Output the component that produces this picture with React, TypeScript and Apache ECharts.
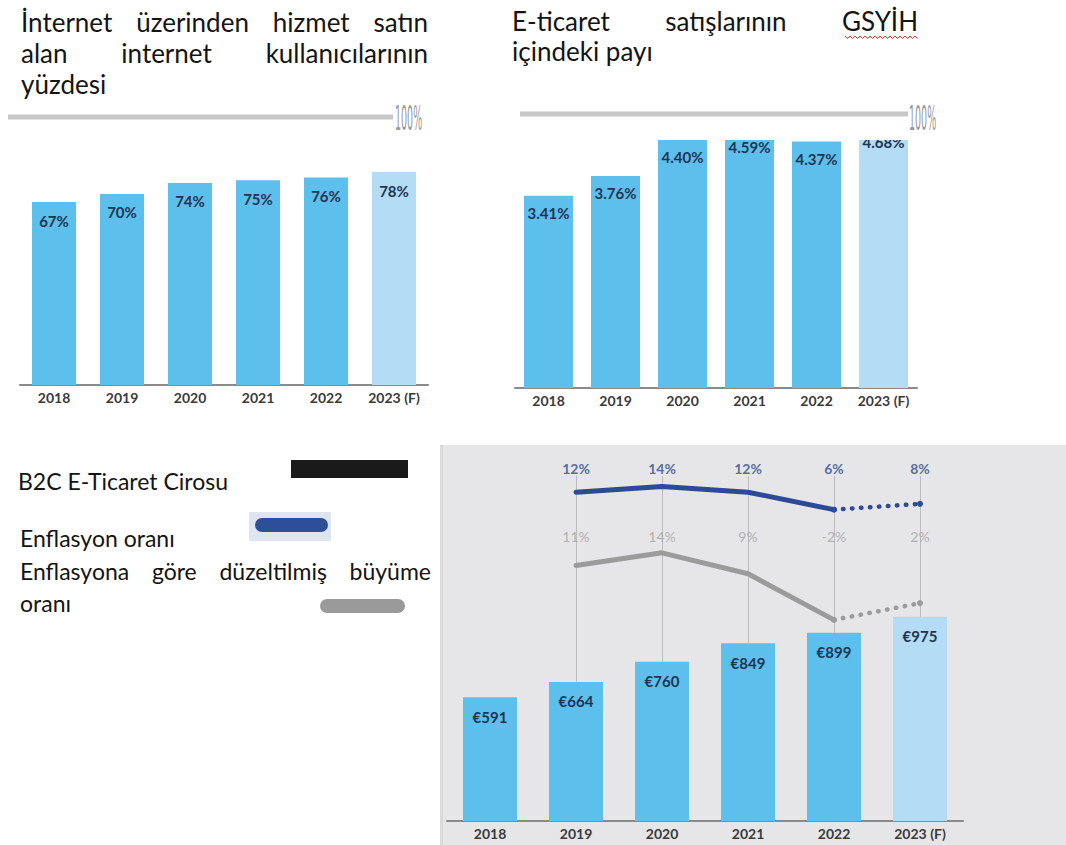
import React, { useEffect, useRef } from "react";
import * as echarts from "echarts";

// ---------- data ----------
const years = ["2018", "2019", "2020", "2021", "2022", "2023 (F)"];
const buyersPct = [67, 70, 74, 75, 76, 78];
const gdpShare = [3.41, 3.76, 4.4, 4.59, 4.37, 4.68];
const turnover = [591, 664, 760, 849, 899, 975];
const inflation: (number | null)[] = [null, 12, 14, 12, 6, 8];
const adjGrowth: (number | null)[] = [null, 11, 14, 9, -2, 2];
const forecastIndex = 5;

const titleLeft = [["İnternet", "üzerinden", "hizmet", "satın"], ["alan", "internet", "kullanıcılarının"], ["yüzdesi"]];
const titleRight = [["E-ticaret", "satışlarının", "GSYİH"], ["içindeki payı"]];
const legendLabels = ["B2C E-Ticaret Cirosu", "Enflasyon oranı", ["Enflasyona", "göre", "düzeltilmiş", "büyüme"], "oranı"];

// ---------- styles ----------
const BAR = "#5cbfec";
const BAR_F = "#b4dcf4";
const LABEL_DARK = "#1e3552";
const BLUE = "#2c4a97";
const GREY = "#9b9b9b";
const FONT = "Lato";

const solidPart = (arr: (number | null)[]) => arr.map((v, i) => (i < forecastIndex ? v : null));
const dottedPart = (arr: (number | null)[]) => arr.map((v, i) => (i >= forecastIndex - 1 ? v : null));

let measureCtx: CanvasRenderingContext2D | null = null;
const measure = (text: string, fontSize: number) => {
  if (!measureCtx) measureCtx = document.createElement("canvas").getContext("2d");
  if (!measureCtx) return text.length * fontSize * 0.5;
  measureCtx.font = `${fontSize}px ${FONT}`;
  return measureCtx.measureText(text).width;
};

export default function App() {
  const ref = useRef<HTMLDivElement>(null);
  useEffect(() => {
    if (!ref.current) return;
    const chart = echarts.init(ref.current, undefined, { renderer: "svg" });

    const barData = (vals: number[]) =>
      vals.map((v, i) => ({ value: v, itemStyle: { color: i === forecastIndex ? BAR_F : BAR } }));

    const xAxisBase = (gridIndex: number, fontSize: number, margin: number) => ({
      type: "category",
      gridIndex,
      data: years,
      boundaryGap: true,
      axisLine: { show: true, lineStyle: { color: "#8a8a8a", width: 2 } },
      axisTick: { show: false },
      axisLabel: { color: "#3a3a3a", fontWeight: "bold", fontSize, fontFamily: FONT, margin },
      splitLine: { show: false },
    });

    const T = (text: string, x: number, y: number, o: any = {}) => ({
      type: "text",
      x,
      y,
      z: 100,
      style: {
        text,
        fill: "#141414",
        fontFamily: FONT,
        fontSize: 26,
        verticalAlign: "middle",
        align: "left",
        ...o,
      },
    });

    const graphics: any[] = [];
    const justify = (words: string[], x0: number, x1: number, y: number, fontSize: number) => {
      const widths = words.map((w) => measure(w, fontSize));
      const total = widths.reduce((a, b) => a + b, 0);
      const gap = words.length > 1 ? (x1 - x0 - total) / (words.length - 1) : 0;
      let x = x0;
      words.forEach((w, i) => {
        graphics.push(T(w, x, y, { fontSize }));
        x += widths[i] + gap;
      });
    };

    // bottom-right panel
    graphics.push({ type: "rect", z: -10, shape: { x: 440, y: 445, width: 626, height: 400 }, style: { fill: "#e6e6e8" } });
    graphics.push({ type: "rect", z: -9, shape: { x: 440, y: 445, width: 3, height: 400 }, style: { fill: "#dadadc" } });

    // left title
    justify(titleLeft[0], 21, 428, 22, 26);
    justify(titleLeft[1], 21, 428, 53, 26);
    graphics.push(T(titleLeft[2][0], 21, 84));

    // right title
    justify(titleRight[0], 512, 918, 21, 26);
    graphics.push(T(titleRight[1][0], 512, 51));
    // spell-check wavy underline
    const wave: number[][] = [];
    for (let x = 845, k = 0; x <= 918; x += 2.5, k++) wave.push([x, k % 2 === 0 ? 36 : 38.5]);
    graphics.push({ type: "polyline", z: 100, shape: { points: wave }, style: { stroke: "#e0342f", lineWidth: 1, fill: null } });

    // 100% reference lines
    const pct = (x: number, y: number) => {
      const t: any = T("100%", x, y, { fill: "#9a9a9a", fontFamily: "DejaVu Sans", fontSize: 34 });
      t.scaleX = 0.28;
      return t;
    };
    graphics.push({ type: "line", z: 60, shape: { x1: 8, y1: 117, x2: 393, y2: 117 }, style: { stroke: "#c8c8c8", lineWidth: 5 } });
    graphics.push(pct(395, 118));
    graphics.push({ type: "rect", z: 50, shape: { x: 505, y: 96, width: 425, height: 44 }, style: { fill: "#ffffff" } });
    graphics.push({ type: "line", z: 60, shape: { x1: 520, y1: 114, x2: 908, y2: 114 }, style: { stroke: "#c8c8c8", lineWidth: 5 } });
    graphics.push(pct(909, 118));

    // legend
    graphics.push(T(legendLabels[0] as string, 18, 481, { fontSize: 23 }));
    graphics.push({ type: "rect", z: 100, shape: { x: 291, y: 460, width: 117, height: 18 }, style: { fill: "#1a1a1a" } });
    graphics.push(T(legendLabels[1] as string, 20, 538, { fontSize: 23 }));
    graphics.push({ type: "rect", z: 99, shape: { x: 249, y: 512, width: 82, height: 29 }, style: { fill: "#dfe5ef" } });
    graphics.push({ type: "rect", z: 100, shape: { x: 255, y: 518, width: 73, height: 14, r: 7 }, style: { fill: "#2d4f9a" } });
    justify(legendLabels[2] as string[], 20, 431, 571, 23);
    graphics.push(T(legendLabels[3] as string, 20, 603, { fontSize: 23 }));
    graphics.push({ type: "rect", z: 100, shape: { x: 320, y: 599, width: 85, height: 14, r: 7 }, style: { fill: "#9a9a9a" } });

    const BLUE_ROW = 34.2;
    const GREY_ROW = 17.8;
    const DROP_TOP = 1647;

    const rowLabels = (arr: (number | null)[], row: number) =>
      arr
        .map((v, i) => (v == null ? null : { value: [years[i], row], label: { formatter: `${v}%` } }))
        .filter((d) => d !== null);

    const option: any = {
      animation: false,
      backgroundColor: "#ffffff",
      grid: [
        { left: 20, top: 112, width: 408, height: 273 },
        { left: 515, top: 106, width: 402, height: 282 },
        { left: 447, top: 402, width: 516, height: 419 },
      ],
      xAxis: [xAxisBase(0, 14, 5), xAxisBase(1, 14, 5), xAxisBase(2, 14, 5)],
      yAxis: [
        { type: "value", gridIndex: 0, min: 0, max: 100, show: false },
        { type: "value", gridIndex: 1, min: 0, max: 5, show: false },
        { type: "value", gridIndex: 2, min: 0, max: 2000, show: false },
        { type: "value", gridIndex: 2, min: -101, max: 43, show: false },
        { type: "value", gridIndex: 2, min: -50, max: 50, show: false },
      ],
      graphic: { elements: graphics },
      series: [
        {
          type: "bar",
          xAxisIndex: 0,
          yAxisIndex: 0,
          barWidth: 44,
          data: barData(buyersPct),
          label: {
            show: true,
            position: "insideTop",
            distance: 11,
            formatter: (p: any) => `${p.value}%`,
            color: LABEL_DARK,
            fontWeight: "bold",
            fontSize: 15,
            fontFamily: FONT,
          },
        },
        {
          type: "bar",
          xAxisIndex: 1,
          yAxisIndex: 1,
          barWidth: 49,
          data: barData(gdpShare),
          label: {
            show: true,
            position: "insideTop",
            distance: 10,
            formatter: (p: any) => `${Number(p.value).toFixed(2)}%`,
            color: LABEL_DARK,
            fontWeight: "bold",
            fontSize: 15,
            fontFamily: FONT,
          },
        },
        {
          type: "bar",
          xAxisIndex: 2,
          yAxisIndex: 2,
          barWidth: 54,
          data: barData(turnover),
          label: {
            show: true,
            position: "insideTop",
            distance: 12,
            formatter: (p: any) => `€${p.value}`,
            color: LABEL_DARK,
            fontWeight: "bold",
            fontSize: 15,
            fontFamily: FONT,
          },
          markLine: {
            silent: true,
            symbol: "none",
            label: { show: false },
            lineStyle: { color: "#bcbcbc", width: 1, type: "solid" },
            data: turnover
              .map((v, i) => (inflation[i] == null ? null : [{ coord: [years[i], v] }, { coord: [years[i], DROP_TOP] }]))
              .filter((d) => d !== null),
          },
        },
        {
          type: "line",
          xAxisIndex: 2,
          yAxisIndex: 3,
          data: solidPart(inflation),
          symbol: "none",
          z: 5,
          lineStyle: { color: BLUE, width: 5, cap: "round", join: "round" },
        },
        {
          type: "line",
          xAxisIndex: 2,
          yAxisIndex: 3,
          data: dottedPart(inflation),
          symbol: "circle",
          symbolSize: 6,
          showSymbol: true,
          itemStyle: { color: BLUE },
          z: 5,
          lineStyle: { color: BLUE, width: 4.5, type: [0.5, 8.5], cap: "round" },
        },
        {
          type: "line",
          xAxisIndex: 2,
          yAxisIndex: 4,
          data: solidPart(adjGrowth),
          symbol: "none",
          z: 5,
          lineStyle: { color: GREY, width: 5, cap: "round", join: "round" },
        },
        {
          type: "line",
          xAxisIndex: 2,
          yAxisIndex: 4,
          data: dottedPart(adjGrowth),
          symbol: "circle",
          symbolSize: 6,
          showSymbol: true,
          itemStyle: { color: GREY },
          z: 5,
          lineStyle: { color: GREY, width: 4.5, type: [0.5, 8.5], cap: "round" },
        },
        {
          type: "scatter",
          xAxisIndex: 2,
          yAxisIndex: 4,
          symbolSize: 0,
          itemStyle: { color: "transparent" },
          data: rowLabels(inflation, BLUE_ROW),
          label: { show: true, position: "inside", color: "#2f4b8c", fontWeight: "bold", fontSize: 14, fontFamily: FONT },
          z: 6,
        },
        {
          type: "scatter",
          xAxisIndex: 2,
          yAxisIndex: 4,
          symbolSize: 0,
          itemStyle: { color: "transparent" },
          data: rowLabels(adjGrowth, GREY_ROW),
          label: { show: true, position: "inside", color: "#a3a3a3", fontSize: 14, fontFamily: FONT },
          z: 6,
        },
      ],
    };

    chart.setOption(option);
    return () => chart.dispose();
  }, []);

  return <div ref={ref} style={{ position: "absolute", left: 0, top: 0, width: 1066, height: 845 }} />;
}
